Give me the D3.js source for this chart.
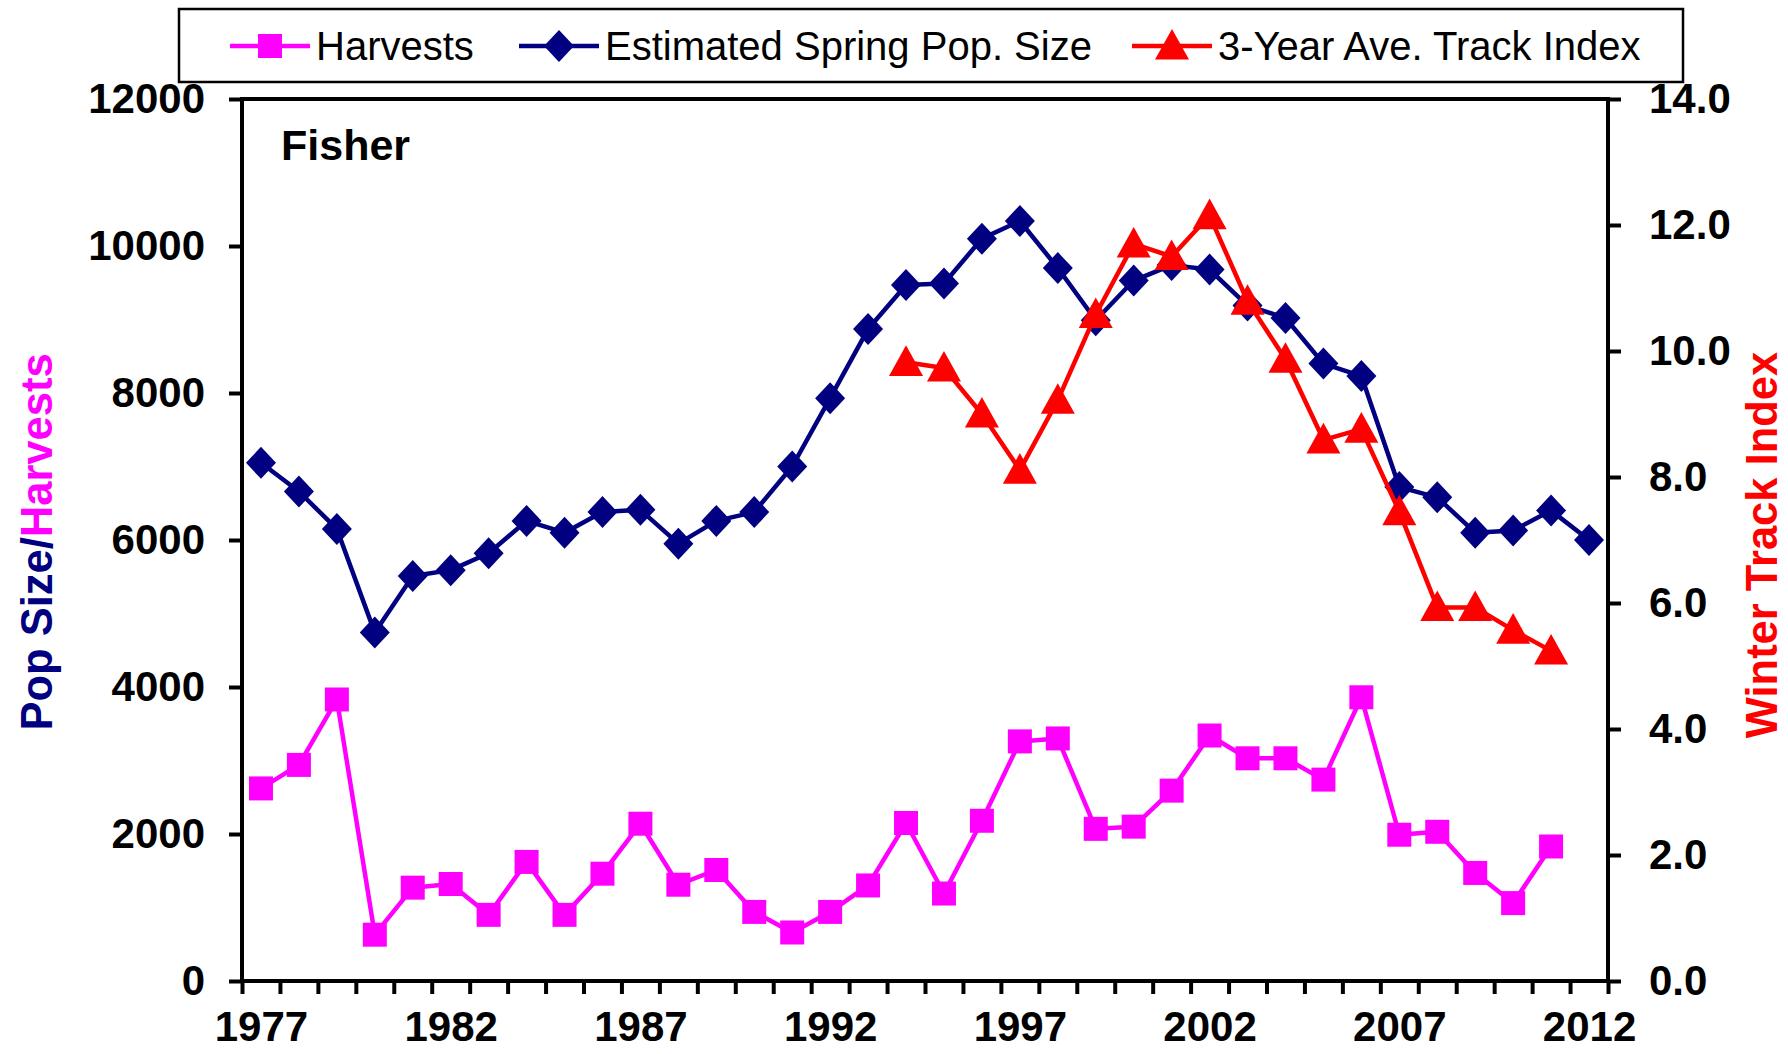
<!DOCTYPE html>
<html>
<head>
<meta charset="utf-8">
<script src="https://cdn.jsdelivr.net/npm/d3@7"></script>
<style>
  html, body { margin: 0; padding: 0; background: #fff; }
  svg { display: block; }
  text { font-family: "Liberation Sans", Arial, sans-serif; }
</style>
</head>
<body>
<script>
// Fisher harvests / population / track index
const years = [1977, 1978, 1979, 1980, 1981, 1982, 1983, 1984, 1985, 1986, 1987, 1988,
  1989, 1990, 1991, 1992, 1993, 1994, 1995, 1996, 1997, 1998, 1999, 2000, 2001, 2002,
  2003, 2004, 2005, 2006, 2007, 2008, 2009, 2010, 2011, 2012];
const popSize = [7050, 6660, 6150, 4740, 5510, 5590, 5820, 6260, 6100, 6380, 6410, 5950,
  6260, 6380, 7000, 7930, 8870, 9470, 9490, 10100, 10340, 9700, 8990, 9530, 9740, 9680,
  9190, 9020, 8400, 8230, 6720, 6580, 6100, 6130, 6400, 6000];
const harvestYears = years.slice(0, 35);
const harvests = [2620, 2940, 3830, 630, 1270, 1320, 900, 1620, 900, 1460, 2140, 1310,
  1510, 940, 660, 940, 1300, 2150, 1190, 2180, 3260, 3300, 2070, 2100, 2590, 3340,
  3030, 3030, 2740, 3860, 1990, 2030, 1470, 1060, 1830];
const trackYears = [1994, 1995, 1996, 1997, 1998, 1999, 2000, 2001, 2002, 2003, 2004,
  2005, 2006, 2007, 2008, 2009, 2010, 2011];
const trackIndex = [9.82, 9.73, 9.0, 8.11, 9.22, 10.58, 11.7, 11.5, 12.15, 10.79, 9.87,
  8.59, 8.76, 7.45, 5.93, 5.93, 5.57, 5.24];
const leftTicks = [0, 2000, 4000, 6000, 8000, 10000, 12000];
const rightTicks = [0, 2, 4, 6, 8, 10, 12, 14];
const yearLabels = [1977, 1982, 1987, 1992, 1997, 2002, 2007, 2012];

const width = 1788, height = 1054;
const margin = {top: 99, right: 180, bottom: 73, left: 242};
const navy = "#000080", magenta = "#ff00ff", red = "#ff0000";

const svg = d3.select("body").append("svg")
    .attr("width", width)
    .attr("height", height);

// points sit in the middle of each year, ticks on the year boundaries
const x = d3.scaleLinear()
    .domain([years[0] - 0.5, years[years.length - 1] + 0.5])
    .range([margin.left, width - margin.right]);
const yLeft = d3.scaleLinear().domain([0, 12000]).range([height - margin.bottom, margin.top]);
const yRight = d3.scaleLinear().domain([0, 14]).range([height - margin.bottom, margin.top]);

const x0 = x.range()[0], x1 = x.range()[1];
const y0 = yLeft.range()[0], y1 = yLeft.range()[1];

// plot frame
svg.append("rect")
    .attr("x", x0).attr("y", y1)
    .attr("width", x1 - x0).attr("height", y0 - y1)
    .attr("fill", "none")
    .attr("stroke", "#000")
    .attr("stroke-width", 4);

function styleAxis(g) {
  g.select(".domain").remove();
  g.selectAll(".tick line").attr("stroke", "#000").attr("stroke-width", 4);
  g.selectAll(".tick text")
      .attr("fill", "#000")
      .style("font-size", "42px")
      .style("font-weight", "bold");
}

svg.append("g")
    .attr("transform", `translate(${x0},0)`)
    .call(d3.axisLeft(yLeft).tickValues(leftTicks).tickSize(13).tickPadding(24).tickFormat(d3.format("d")))
    .call(styleAxis);

svg.append("g")
    .attr("transform", `translate(${x1},0)`)
    .call(d3.axisRight(yRight).tickValues(rightTicks).tickSize(13).tickPadding(28).tickFormat(d3.format(".1f")))
    .call(styleAxis);

// year boundary ticks
svg.append("g")
    .attr("transform", `translate(0,${y0})`)
    .call(d3.axisBottom(x).tickValues(d3.range(years.length + 1).map(i => years[0] - 0.5 + i))
      .tickSize(13).tickFormat(""))
    .call(styleAxis);

// year labels
svg.append("g")
    .attr("transform", `translate(0,${y0})`)
    .call(d3.axisBottom(x).tickValues(yearLabels).tickSize(0).tickPadding(30).tickFormat(d3.format("d")))
    .call(styleAxis)
    .call(g => g.selectAll(".tick text").attr("dy", "0.71em"));

// series
const lineLeft = d3.line().x(d => x(d[0])).y(d => yLeft(d[1]));
const lineRight = d3.line().x(d => x(d[0])).y(d => yRight(d[1]));

const harvestPts = harvestYears.map((yr, i) => [yr, harvests[i]]);
const popPts = years.map((yr, i) => [yr, popSize[i]]);
const trackPts = trackYears.map((yr, i) => [yr, trackIndex[i]]);

const sq = 12, dmx = 15, dmy = 16, tri = 17;
const squarePath = `M${-sq},${-sq}H${sq}V${sq}H${-sq}Z`;
const diamondPath = `M0,${-dmy}L${dmx},0L0,${dmy}L${-dmx},0Z`;
const trianglePath = `M0,${-tri}L${tri},${tri * 0.8}H${-tri}Z`;

function drawSeries(pts, line, color, shape, yScale) {
  const g = svg.append("g");
  g.append("path")
      .attr("d", line(pts))
      .attr("fill", "none")
      .attr("stroke", color)
      .attr("stroke-width", 4.5)
      .attr("stroke-linejoin", "round");
  g.selectAll("path.mark")
    .data(pts)
    .join("path")
      .attr("class", "mark")
      .attr("d", shape)
      .attr("transform", d => `translate(${x(d[0])},${yScale(d[1])})`)
      .attr("fill", color);
}

drawSeries(harvestPts, lineLeft, magenta, squarePath, yLeft);
drawSeries(popPts, lineLeft, navy, diamondPath, yLeft);
drawSeries(trackPts, lineRight, red, trianglePath, yRight);

// panel label
svg.append("text")
    .attr("x", 281).attr("y", 160)
    .style("font-size", "43px")
    .style("font-weight", "bold")
    .text("Fisher");

// axis titles
const leftTitle = svg.append("text")
    .attr("transform", "translate(52,542) rotate(-90)")
    .attr("text-anchor", "middle")
    .style("font-size", "43.5px")
    .style("font-weight", "bold");
leftTitle.append("tspan").attr("fill", navy).text("Pop Size/");
leftTitle.append("tspan").attr("fill", magenta).text("Harvests");

svg.append("text")
    .attr("transform", "translate(1777,545) rotate(-90)")
    .attr("text-anchor", "middle")
    .attr("fill", red)
    .style("font-size", "43.5px")
    .style("font-weight", "bold")
    .text("Winter Track Index");

// legend
const legend = svg.append("g");
legend.append("rect")
    .attr("x", 179).attr("y", 9)
    .attr("width", 1504).attr("height", 73)
    .attr("fill", "#fff")
    .attr("stroke", "#000")
    .attr("stroke-width", 2.5);

const legendItems = [
  {label: "Harvests", color: magenta, shape: squarePath, x: 230},
  {label: "Estimated Spring Pop. Size", color: navy, shape: diamondPath, x: 519},
  {label: "3-Year Ave. Track Index", color: red, shape: trianglePath, x: 1132}
];
const li = legend.selectAll("g.item")
  .data(legendItems)
  .join("g")
    .attr("class", "item")
    .attr("transform", d => `translate(${d.x},46)`);
li.append("line")
    .attr("x1", 0).attr("x2", 80)
    .attr("stroke", d => d.color)
    .attr("stroke-width", 4.5);
li.append("path")
    .attr("d", d => d.shape)
    .attr("transform", "translate(40,0)")
    .attr("fill", d => d.color);
li.append("text")
    .attr("x", 86).attr("y", 14)
    .style("font-size", "40px")
    .text(d => d.label);
</script>
</body>
</html>
